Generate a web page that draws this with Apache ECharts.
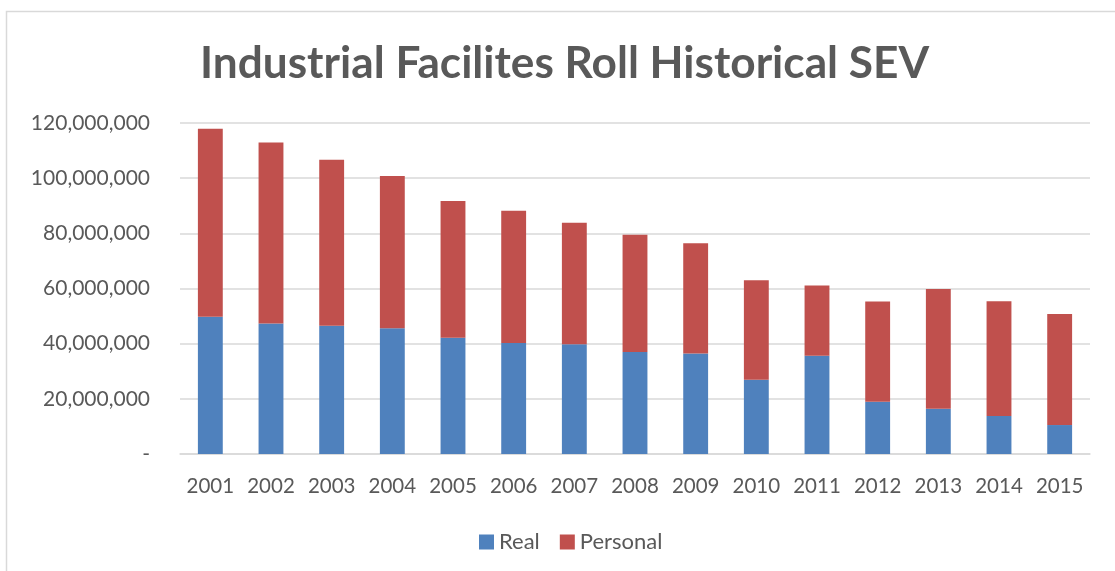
<!DOCTYPE html>
<html>
<head>
<meta charset="utf-8">
<script src="https://cdn.jsdelivr.net/npm/echarts@6/dist/echarts.min.js"></script>
<style>
html,body{margin:0;padding:0;background:#fff;}
#chart{width:1115px;height:571px;}
</style>
</head>
<body>
<div id="chart"></div>
<script>
const years = ['2001','2002','2003','2004','2005','2006','2007','2008','2009','2010','2011','2012','2013','2014','2015'];
const realValues = [49800000,47300000,46500000,45600000,42100000,40200000,39800000,37000000,36400000,26900000,35600000,18900000,16400000,13800000,10500000];
const personalValues = [68100000,65600000,60200000,55200000,49600000,48000000,44000000,42500000,40000000,36100000,25500000,36400000,43400000,41600000,40300000];
const yTicks = [0,20000000,40000000,60000000,80000000,100000000,120000000];

const textColor = '#595959';
const font = 'Lato';

function fmt(v){
  if (v === 0) return '-';
  return v.toString().replace(/\B(?=(\d{3})+(?!\d))/g, ',');
}

const chart = echarts.init(document.getElementById('chart'));
chart.setOption({
  backgroundColor: '#fff',
  animation: false,
  graphic: [{
    type: 'rect',
    shape: {x: 6.5, y: 11.5, width: 1200, height: 700},
    style: {fill: 'none', stroke: '#d9d9d9', lineWidth: 1.5},
    silent: true
  }],
  title: {
    text: 'Industrial Facilites Roll Historical SEV',
    left: 195,
    top: 37,
    textStyle: {fontFamily: font, fontWeight: 'bold', fontSize: 44.2, color: textColor}
  },
  legend: {
    data: ['Real','Personal'],
    left: 474,
    top: 526,
    itemWidth: 15,
    itemHeight: 15,
    itemGap: 20,
    icon: 'rect',
    textStyle: {fontFamily: font, fontSize: 22, color: textColor}
  },
  grid: {left: 180, right: 25, top: 123, bottom: 117, containLabel: false},
  xAxis: {
    type: 'category',
    data: years,
    axisLine: {lineStyle: {color: '#d9d9d9', width: 1.5}},
    axisTick: {show: false},
    axisLabel: {fontFamily: font, fontSize: 20.5, color: textColor, margin: 22, interval: 0}
  },
  yAxis: {
    type: 'value',
    min: 0,
    max: yTicks[yTicks.length-1],
    interval: yTicks[1]-yTicks[0],
    axisLine: {show: false},
    axisTick: {show: false},
    splitLine: {lineStyle: {color: '#d9d9d9', width: 1.5}},
    axisLabel: {fontFamily: font, fontSize: 21, color: textColor, margin: 30, formatter: fmt}
  },
  series: [
    {name: 'Real', type: 'bar', stack: 'total', data: realValues, barWidth: '41%',
     itemStyle: {color: '#4F81BD'}},
    {name: 'Personal', type: 'bar', stack: 'total', data: personalValues, barWidth: '41%',
     itemStyle: {color: '#C0504D'}}
  ]
});
</script>
</body>
</html>
